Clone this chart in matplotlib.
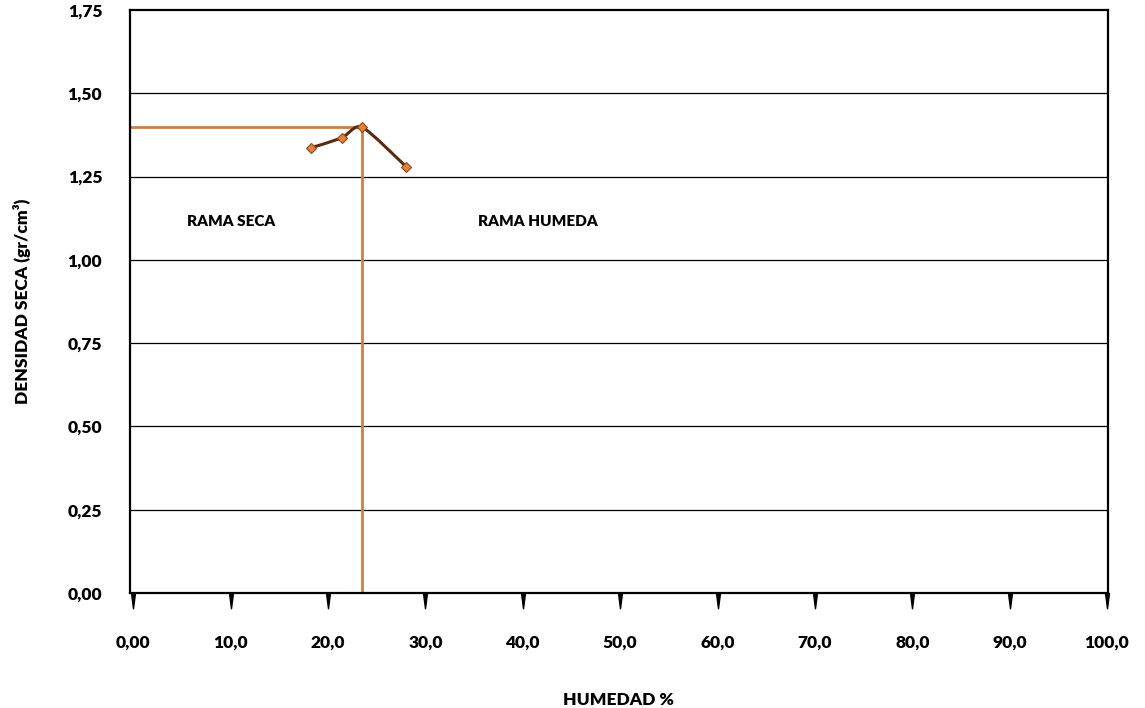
import numpy as np
import matplotlib.pyplot as plt
from matplotlib.path import Path
from matplotlib.patches import PathPatch

plt.rcParams['font.family'] = ['Lato', 'DejaVu Sans']
plt.rcParams['font.weight'] = 'heavy'
plt.rcParams['axes.labelweight'] = 'heavy'

# Compaction test points
humedad = [18.2, 21.4, 23.5, 28.0]
densidad = [1.336, 1.366, 1.398, 1.280]

# Optimum moisture / max dry density
hum_opt = 23.5
dens_max = 1.40

x_ticks = [0, 10, 20, 30, 40, 50, 60, 70, 80, 90, 100]
x_labels = ['0,00', '10,0', '20,0', '30,0', '40,0', '50,0', '60,0', '70,0', '80,0', '90,0', '100,0']
y_ticks = [0, 0.25, 0.5, 0.75, 1.0, 1.25, 1.5, 1.75]
y_labels = ['0,00', '0,25', '0,50', '0,75', '1,00', '1,25', '1,50', '1,75']

fig = plt.figure(figsize=(11.45, 7.08), dpi=100)
ax = fig.add_axes([0.1135, 0.1624, 0.8542, 0.8235])

ax.set_xlim(-0.35, 100.1)
ax.set_ylim(0, 1.75)

for yv in y_ticks[1:-1]:
    ax.axhline(yv, color='black', linewidth=0.9, zorder=1)

# guide lines to the optimum
ax.plot([-0.35, hum_opt], [dens_max, dens_max], color='#C9824D', linewidth=2, zorder=2)
ax.plot([hum_opt, hum_opt], [0, dens_max], color='#C9824D', linewidth=2, zorder=2)

# smoothed curve (Catmull-Rom as cubic Bezier segments)
pts = np.column_stack([humedad, densidad])
verts = [tuple(pts[0])]
codes = [Path.MOVETO]
n = len(pts)
for i in range(n - 1):
    p0 = pts[i - 1] if i > 0 else pts[i]
    p1 = pts[i]
    p2 = pts[i + 1]
    p3 = pts[i + 2] if i + 2 < n else pts[i + 1]
    c1 = p1 + (p2 - p0) / 8
    c2 = p2 - (p3 - p1) / 8
    verts += [tuple(c1), tuple(c2), tuple(p2)]
    codes += [Path.CURVE4] * 3
ax.add_patch(PathPatch(Path(verts, codes), facecolor='none', edgecolor='#5B2A0E',
                       linewidth=2.2, zorder=3))
ax.plot(humedad, densidad, linestyle='none', marker='D', markersize=5,
        markerfacecolor='#E8813A', markeredgecolor='#8A4A1E', markeredgewidth=0.8, zorder=4)

ax.text(10.0, 1.114, 'RAMA SECA', ha='center', va='center', fontsize=11)
ax.text(41.5, 1.114, 'RAMA HUMEDA', ha='center', va='center', fontsize=11)

for s in ax.spines.values():
    s.set_linewidth(1.6)
    s.set_color('black')

ax.set_yticks(y_ticks)
ax.set_yticklabels(y_labels, fontsize=12.5)
ax.tick_params(axis='y', length=0, pad=20)

ax.set_xticks(x_ticks)
ax.set_xticklabels(x_labels, fontsize=12.5)
ax.tick_params(axis='x', length=0, pad=30)

# spike-shaped tick marks below the x axis
spike = [(-0.13, 0), (0.13, 0), (0, -1), (-0.13, 0)]
ax.plot(x_ticks, [0] * len(x_ticks), linestyle='none', marker=spike, markersize=22,
        color='black', transform=ax.get_xaxis_transform(), clip_on=False, zorder=5)

ax.set_xlabel('HUMEDAD %', fontsize=12.5, labelpad=30)
ax.set_ylabel('DENSIDAD SECA (gr/cm³)', fontsize=12.5, labelpad=26)

fig.savefig('out.png', dpi=100)
